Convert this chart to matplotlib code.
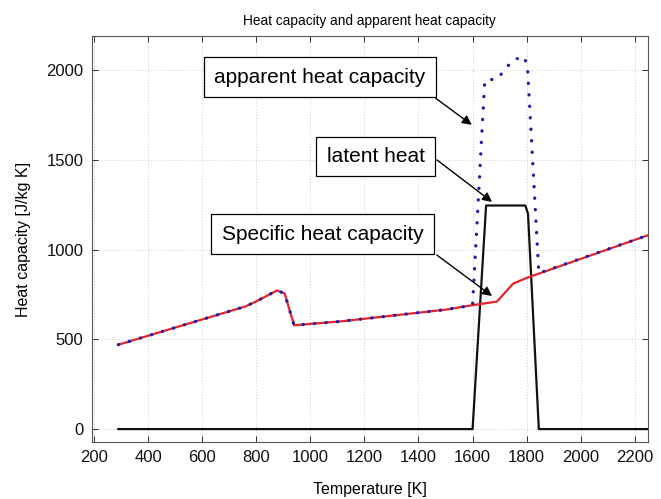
import matplotlib
matplotlib.use('Agg')
import matplotlib.pyplot as plt

plt.rcParams['font.family'] = ['Liberation Sans', 'DejaVu Sans']

# specific heat capacity c_p(T)
T_cp = [290, 760, 800, 877, 905, 940, 1114, 1500, 1600, 1690, 1750, 1800, 2250]
cp   = [470, 683, 711, 772, 755, 578, 600, 665, 690, 710, 810, 842, 1080]

# latent heat contribution
T_lat = [290, 1600, 1650, 1795, 1805, 1845, 2250]
lat   = [0, 0, 1245, 1245, 1200, 0, 0]

# apparent heat capacity
T_app = [290, 760, 800, 877, 905, 940, 1114, 1500, 1600, 1645, 1693, 1720,
         1750, 1790, 1803, 1845, 2250]
app   = [470, 683, 711, 772, 755, 578, 600, 665, 690, 1940, 1952, 2003,
         2055, 2075, 2020, 868, 1080]

x_ticks = list(range(200, 2201, 200))
y_ticks = [0, 500, 1000, 1500, 2000]

fig = plt.figure(figsize=(6.61, 4.99), dpi=100)
ax = fig.add_axes([0.139, 0.1142, 0.841, 0.8137])

ax.plot(T_lat, lat, color='#111111', lw=1.6, zorder=3)
ax.plot(T_cp, cp, color='#e8222a', lw=1.6, zorder=3)
ax.plot(T_app, app, color='#1c1cb0', lw=2.4, linestyle=(0, (0.05, 3.4)),
        dash_capstyle='round', zorder=4)

ax.set_xlim(192, 2248)
ax.set_ylim(-72, 2189)
ax.set_xticks(x_ticks)
ax.set_yticks(y_ticks)
ax.tick_params(direction='in', top=True, right=True, length=4, width=0.6,
               labelsize=12, pad=6, colors='#111111')
ax.grid(True, color='#cccccc', linestyle=(0, (1, 2)), lw=0.7)
for s in ax.spines.values():
    s.set_color('#555555')
    s.set_linewidth(0.8)

ax.set_title('Heat capacity and apparent heat capacity', fontsize=9.8, pad=8)
ax.set_xlabel('Temperature [K]', fontsize=11.5, labelpad=12)
ax.set_ylabel('Heat capacity [J/kg K]', fontsize=11.5, labelpad=11)

box = dict(boxstyle='square,pad=0.5', fc='white', ec='k', lw=0.9)
arrow = dict(arrowstyle='-|>', color='k', lw=1.0, mutation_scale=14,
             shrinkA=0, shrinkB=0)

ax.text(1035, 1960, 'apparent heat capacity', fontsize=15, ha='center',
        va='center', bbox=box, zorder=5)
ax.text(1242, 1518, 'latent heat', fontsize=15, ha='center',
        va='center', bbox=box, zorder=5)
ax.text(1046, 1085, 'Specific heat capacity', fontsize=15, ha='center',
        va='center', bbox=box, zorder=5)

ax.annotate('', xy=(1597, 1694), xytext=(1464, 1842), arrowprops=arrow, zorder=5)
ax.annotate('', xy=(1672, 1265), xytext=(1468, 1499), arrowprops=arrow, zorder=5)
ax.annotate('', xy=(1672, 741), xytext=(1468, 969), arrowprops=arrow, zorder=5)

fig.savefig('out.png', dpi=100)
